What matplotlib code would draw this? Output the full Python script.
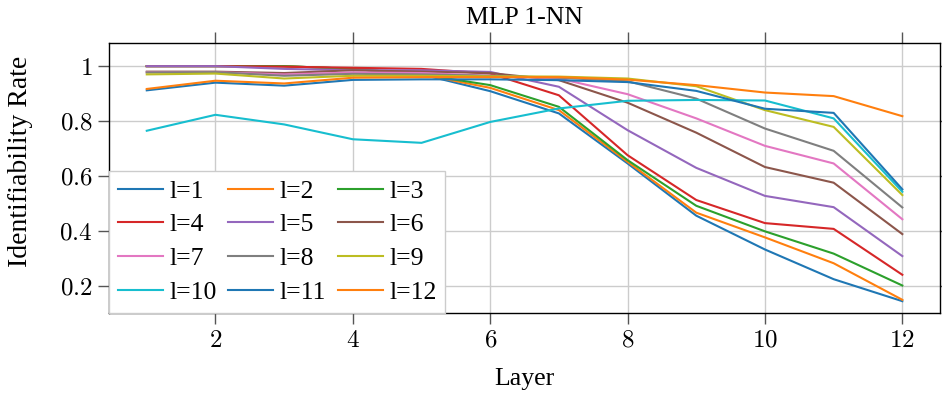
import matplotlib
matplotlib.use('Agg')
import matplotlib.pyplot as plt
import numpy as np

plt.rcParams['font.family'] = ['Liberation Serif', 'DejaVu Serif']
plt.rcParams['mathtext.fontset'] = 'cm'

layers = np.arange(1, 13)

l1 = [1.0, 1.0, 1.0, 0.99, 0.97, 0.909, 0.828, 0.646, 0.456, 0.333, 0.225, 0.145]
l2 = [1.0, 1.0, 1.0, 0.99, 0.97, 0.921, 0.840, 0.652, 0.467, 0.377, 0.283, 0.150]
l3 = [1.0, 1.0, 1.0, 0.99, 0.97, 0.931, 0.852, 0.658, 0.492, 0.399, 0.318, 0.202]
l4 = [1.0, 1.0, 0.998, 0.994, 0.99, 0.973, 0.894, 0.676, 0.513, 0.429, 0.408, 0.241]
l5 = [1.0, 1.0, 0.99, 0.985, 0.985, 0.979, 0.925, 0.767, 0.630, 0.528, 0.487, 0.309]
l6 = [0.98, 0.98, 0.975, 0.985, 0.98, 0.975, 0.949, 0.867, 0.758, 0.633, 0.576, 0.389]
l7 = [0.978, 0.978, 0.970, 0.977, 0.975, 0.965, 0.955, 0.898, 0.810, 0.710, 0.646, 0.443]
l8 = [0.977, 0.978, 0.965, 0.972, 0.970, 0.965, 0.958, 0.945, 0.882, 0.773, 0.692, 0.486]
l9 = [0.970, 0.973, 0.955, 0.965, 0.965, 0.963, 0.962, 0.955, 0.927, 0.840, 0.779, 0.531]
l10 = [0.765, 0.823, 0.788, 0.734, 0.721, 0.797, 0.846, 0.874, 0.877, 0.875, 0.810, 0.543]
l11 = [0.912, 0.940, 0.929, 0.950, 0.952, 0.952, 0.949, 0.942, 0.910, 0.845, 0.830, 0.552]
l12 = [0.917, 0.947, 0.937, 0.958, 0.960, 0.960, 0.960, 0.951, 0.931, 0.904, 0.891, 0.818]

series = [l1, l2, l3, l4, l5, l6, l7, l8, l9, l10, l11, l12]
labels = ['l=%d' % (i + 1) for i in range(12)]
colors = ['#1f77b4', '#ff7f0e', '#2ca02c', '#d62728', '#9467bd', '#8c564b',
          '#e377c2', '#7f7f7f', '#bcbd22', '#17becf', '#1f77b4', '#ff7f0e']
xticks = [2, 4, 6, 8, 10, 12]
yticks = [0.2, 0.4, 0.6, 0.8, 1.0]

fig = plt.figure(figsize=(9.42, 3.95), dpi=100)
ax = fig.add_axes([0.1157, 0.2076, 0.8823, 0.6834])

lines = []
for vals, lab, c in zip(series, labels, colors):
    ln, = ax.plot(layers, vals, color=c, lw=1.5, label=lab)
    lines.append(ln)

ax.set_xlim(0.45, 12.55)
ax.set_ylim(0.102, 1.084)
ax.set_xticks(xticks)
ax.set_xticklabels(['$%g$' % t for t in xticks])
ax.set_yticks(yticks)
ax.set_yticklabels(['$%g$' % t for t in yticks])
ax.grid(True, color='#cccccc', lw=1.0)
ax.set_axisbelow(True)
ax.tick_params(direction='out', length=8, width=1, color='#555555',
               top=True, right=True, labelsize=18, pad=4)
for s in ax.spines.values():
    s.set_linewidth(1.0)
    s.set_color('black')

ax.set_title('MLP 1-NN', fontsize=18.5, pad=14)
ax.set_xlabel('Layer', fontsize=18.5, labelpad=12)
ax.set_ylabel('Identifiability Rate', fontsize=20)
ax.yaxis.set_label_coords(-0.092, 0.56)

# matplotlib fills legend columns first, so reorder to get rows l=1,2,3 / 4,5,6 ...
order = [0, 3, 6, 9, 1, 4, 7, 10, 2, 5, 8, 11]
leg = ax.legend([lines[i] for i in order], [labels[i] for i in order],
                ncol=3, loc='lower left', bbox_to_anchor=(0, 0), borderaxespad=0,
                fontsize=18.5, handlelength=1.75, handletextpad=0.25, columnspacing=0.45,
                labelspacing=0.42, fancybox=False, framealpha=1, borderpad=0.35)
leg.get_frame().set_edgecolor('#cccccc')
leg.get_frame().set_linewidth(1.0)

plt.savefig('out.png', dpi=100)
